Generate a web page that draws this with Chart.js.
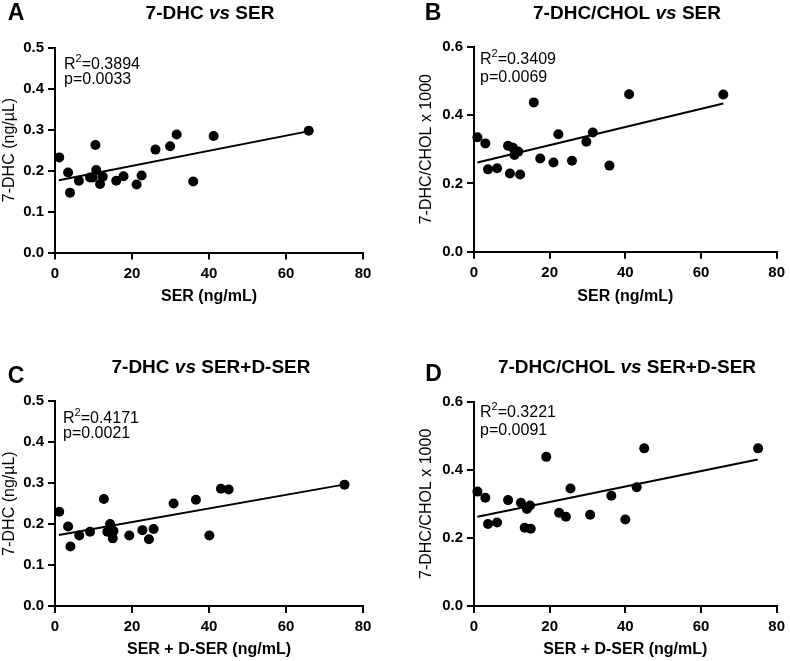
<!DOCTYPE html>
<html>
<head>
<meta charset="utf-8">
<script src="https://cdn.jsdelivr.net/npm/chart.js@4.4.1/dist/chart.umd.min.js"></script>
<style>
  html, body { margin: 0; padding: 0; background: #fff; }
  body { width: 790px; height: 661px; position: relative; overflow: hidden; }
  canvas { position: absolute; }
</style>
</head>
<body>
<canvas id="panelA" width="395" height="320" style="left:0;top:0"></canvas>
<canvas id="panelB" width="395" height="320" style="left:395px;top:0"></canvas>
<canvas id="panelC" width="395" height="341" style="left:0;top:320px"></canvas>
<canvas id="panelD" width="395" height="341" style="left:395px;top:320px"></canvas>
<script>
// values
const serA = [1.1, 3.4, 3.9, 6.2, 9.1, 9.8, 10.5, 10.7, 11.7, 12.4, 15.9, 17.8, 21.2, 22.5, 26.1, 29.9, 31.6, 35.9, 41.2, 65.9];
const dhcA = [0.232, 0.195, 0.146, 0.175, 0.183, 0.183, 0.262, 0.201, 0.167, 0.185, 0.175, 0.186, 0.166, 0.188, 0.251, 0.259, 0.288, 0.173, 0.284, 0.297];
const fitXA = [1, 66];
const fitYA = [0.176, 0.296];

const serB = [0.9, 3.0, 3.7, 6.1, 9.0, 9.5, 10.3, 10.7, 11.7, 12.2, 15.8, 17.5, 21.0, 22.3, 25.9, 29.7, 31.4, 35.8, 41.0, 65.9];
const ratioB = [0.335, 0.317, 0.241, 0.244, 0.310, 0.229, 0.304, 0.283, 0.293, 0.226, 0.437, 0.273, 0.261, 0.344, 0.266, 0.322, 0.349, 0.252, 0.461, 0.460];
const fitXB = [0.9, 65.9];
const fitYB = [0.261, 0.434];

const totC = [1.1, 3.4, 4.0, 6.3, 9.1, 12.7, 13.6, 14.3, 14.5, 15.0, 15.2, 19.3, 22.7, 24.4, 25.6, 30.8, 36.6, 40.1, 43.1, 45.1, 75.2];
const dhcC = [0.230, 0.194, 0.145, 0.172, 0.181, 0.261, 0.181, 0.200, 0.189, 0.165, 0.183, 0.172, 0.185, 0.163, 0.188, 0.250, 0.259, 0.172, 0.286, 0.284, 0.296];
const fitXC = [1, 75];
const fitYC = [0.173, 0.296];

const totD = [0.9, 3.0, 3.7, 6.1, 9.0, 12.4, 13.4, 14.0, 14.8, 15.0, 19.1, 22.5, 24.3, 25.5, 30.7, 36.3, 40.0, 43.0, 45.0, 75.1];
const ratioD = [0.336, 0.318, 0.241, 0.245, 0.311, 0.303, 0.230, 0.285, 0.295, 0.227, 0.438, 0.274, 0.262, 0.345, 0.268, 0.324, 0.254, 0.349, 0.463, 0.463];
const fitXD = [0.9, 75];
const fitYD = [0.262, 0.430];

const xTicks = [0, 20, 40, 60, 80];
const statsA = ['0.3894', '0.0033'];
const statsB = ['0.3409', '0.0069'];
const statsC = ['0.4171', '0.0021'];
const statsD = ['0.3221', '0.0091'];

const FONT = 'Arial, "Liberation Sans", Helvetica, sans-serif';
Chart.defaults.font.family = FONT;
Chart.defaults.color = '#000';

function pts(xs, ys) {
  return xs.map((x, i) => ({ x: x, y: ys[i] }));
}

// letter, title and R2/p text drawn on top of each panel
const panelText = {
  id: 'panelText',
  afterDraw(chart, args, o) {
    const ctx = chart.ctx;
    const area = chart.chartArea;
    ctx.save();
    ctx.fillStyle = '#000';
    ctx.textBaseline = 'middle';
    ctx.textAlign = 'center';
    ctx.font = 'bold 23px ' + FONT;
    ctx.fillText(o.letter, o.letterX, o.letterY);

    // title with italic "vs"
    ctx.textAlign = 'left';
    let w = 0;
    o.title.forEach(p => { ctx.font = p[1] + ' 19px ' + FONT; w += ctx.measureText(p[0]).width; });
    let x = o.titleX - w / 2;
    o.title.forEach(p => {
      ctx.font = p[1] + ' 19px ' + FONT;
      ctx.fillText(p[0], x, o.titleY);
      x += ctx.measureText(p[0]).width;
    });

    ctx.textBaseline = 'alphabetic';
    let sx = area.left + o.statX;
    let sy = area.top + o.statY1;
    ctx.font = '16px ' + FONT;
    ctx.fillText('R', sx, sy);
    sx += ctx.measureText('R').width;
    ctx.font = '11px ' + FONT;
    ctx.fillText('2', sx, sy - 7);
    sx += ctx.measureText('2').width;
    ctx.font = '16px ' + FONT;
    ctx.fillText('=' + o.stats[0], sx, sy);
    ctx.fillText('p=' + o.stats[1], area.left + o.statX, area.top + o.statY2);
    ctx.restore();
  }
};

function makePanel(id, p) {
  new Chart(document.getElementById(id), {
    type: 'scatter',
    data: {
      datasets: [
        {
          data: pts(p.xs, p.ys),
          backgroundColor: '#000',
          borderWidth: 0,
          pointRadius: 5,
          pointHoverRadius: 5,
          clip: false
        },
        {
          data: pts(p.fitX, p.fitY),
          showLine: true,
          borderColor: '#000',
          borderWidth: 2,
          pointRadius: 0,
          fill: false,
          clip: false
        }
      ]
    },
    options: {
      responsive: false,
      animation: false,
      devicePixelRatio: 1,
      layout: { padding: p.pad },
      plugins: {
        legend: { display: false },
        tooltip: { enabled: false },
        panelText: p.text
      },
      scales: {
        x: {
          type: 'linear',
          min: 0,
          max: 80,
          afterBuildTicks: s => { s.ticks = xTicks.map(v => ({ value: v })); },
          ticks: { font: { size: 15, weight: 'bold' }, color: '#000', padding: 5, maxRotation: 0 },
          border: { display: true, color: '#000', width: 2 },
          grid: { drawOnChartArea: false, drawTicks: true, tickLength: 7, color: '#000', lineWidth: 2 },
          title: { display: true, text: p.xTitle, font: { size: 16, weight: 'bold' }, color: '#000', padding: 0 },
          afterFit: s => { s.height = p.xH; }
        },
        y: {
          type: 'linear',
          min: 0,
          max: p.yMax,
          afterBuildTicks: s => { s.ticks = p.yTicks.map(v => ({ value: v })); },
          ticks: { font: { size: 15, weight: 'bold' }, color: '#000', padding: 4, callback: v => v.toFixed(1) },
          border: { display: true, color: '#000', width: 2 },
          grid: { drawOnChartArea: false, drawTicks: true, tickLength: 7, color: '#000', lineWidth: 2 },
          title: { display: true, text: p.yTitle, font: { size: 16 }, color: '#000', padding: 0 },
          afterFit: s => { s.width = p.yW; }
        }
      }
    },
    plugins: [panelText]
  });
}

const dhcTicks = [0, 0.1, 0.2, 0.3, 0.4, 0.5];
const ratioTicks = [0, 0.2, 0.4, 0.6];

makePanel('panelA', {
  xs: serA, ys: dhcA, fitX: fitXA, fitY: fitYA,
  yMax: 0.5, yTicks: dhcTicks,
  xTitle: 'SER (ng/mL)', yTitle: '7-DHC (ng/µL)',
  pad: { left: 0, right: 32, top: 47.5, bottom: 13.4 }, yW: 55, xH: 54.1,
  text: { letter: 'A', letterX: 16, letterY: 14, title: [['7-DHC ', 'bold'], ['vs', 'italic bold'], [' SER', 'bold']], titleX: 210, titleY: 14, stats: statsA, statX: 9, statY1: 21, statY2: 36 }
});

makePanel('panelB', {
  xs: serB, ys: ratioB, fitX: fitXB, fitY: fitYB,
  yMax: 0.6, yTicks: ratioTicks,
  xTitle: 'SER (ng/mL)', yTitle: '7-DHC/CHOL x 1000',
  pad: { left: 22, right: 9.3, top: 46.7, bottom: 13.4 }, yW: 57, xH: 54.9,
  text: { letter: 'B', letterX: 38, letterY: 14, title: [['7-DHC/CHOL ', 'bold'], ['vs', 'italic bold'], [' SER', 'bold']], titleX: 232, titleY: 14, stats: statsB, statX: 6, statY1: 17, statY2: 35 }
});

makePanel('panelC', {
  xs: totC, ys: dhcC, fitX: fitXC, fitY: fitYC,
  yMax: 0.5, yTicks: dhcTicks,
  xTitle: 'SER + D-SER (ng/mL)', yTitle: '7-DHC (ng/µL)',
  pad: { left: 0, right: 32, top: 81, bottom: 1.4 }, yW: 55, xH: 53.6,
  text: { letter: 'C', letterX: 16, letterY: 57, title: [['7-DHC ', 'bold'], ['vs', 'italic bold'], [' SER+D-SER', 'bold']], titleX: 211, titleY: 48, stats: statsC, statX: 8, statY1: 22, statY2: 37 }
});

makePanel('panelD', {
  xs: totD, ys: ratioD, fitX: fitXD, fitY: fitYD,
  yMax: 0.6, yTicks: ratioTicks,
  xTitle: 'SER + D-SER (ng/mL)', yTitle: '7-DHC/CHOL x 1000',
  pad: { left: 22, right: 9.3, top: 81.7, bottom: 1.4 }, yW: 57, xH: 53.6,
  text: { letter: 'D', letterX: 38.5, letterY: 55, title: [['7-DHC/CHOL ', 'bold'], ['vs', 'italic bold'], [' SER+D-SER', 'bold']], titleX: 232, titleY: 48, stats: statsD, statX: 6, statY1: 15, statY2: 33 }
});
</script>
</body>
</html>
